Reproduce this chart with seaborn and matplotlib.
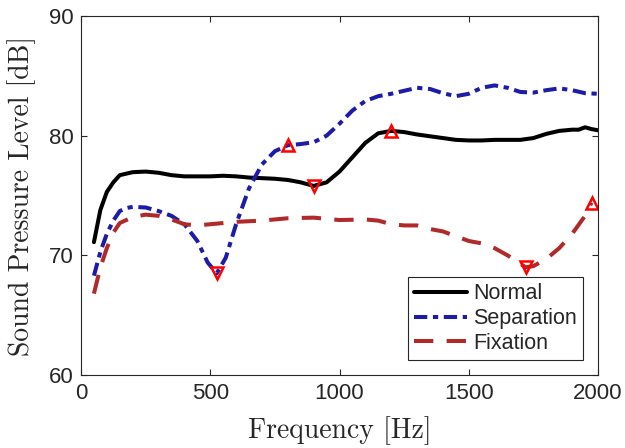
import matplotlib
matplotlib.use("Agg")
import matplotlib.pyplot as plt
import seaborn as sns

# ---------------- data ----------------
normal_freq = [50, 75, 100, 125, 150, 200, 250, 300, 350, 400, 450, 500, 550, 600, 650,
               700, 750, 800, 850, 900, 950, 1000, 1050, 1100, 1150, 1200, 1250, 1300,
               1350, 1400, 1450, 1500, 1550, 1600, 1650, 1700, 1750, 1800, 1850, 1900,
               1925, 1950, 1975, 2000]
normal_spl = [71.1, 73.8, 75.3, 76.1, 76.7, 76.95, 77.0, 76.9, 76.7, 76.6, 76.6, 76.6, 76.65,
              76.6, 76.5, 76.45, 76.4, 76.3, 76.1, 75.8, 76.1, 77.0, 78.2, 79.4, 80.2, 80.4,
              80.3, 80.1, 79.95, 79.8, 79.65, 79.6, 79.6, 79.65, 79.65, 79.65, 79.8, 80.15,
              80.4, 80.5, 80.5, 80.7, 80.55, 80.45]

separation_freq = [50, 75, 100, 125, 150, 175, 200, 250, 300, 350, 400, 450, 490, 525, 560,
                   600, 650, 700, 750, 800, 850, 900, 950, 1000, 1050, 1100, 1150, 1200,
                   1250, 1300, 1350, 1400, 1450, 1500, 1550, 1600, 1650, 1700, 1750, 1800,
                   1850, 1900, 1950, 2000]
separation_spl = [68.3, 70.3, 71.8, 72.9, 73.7, 73.95, 74.05, 74.0, 73.7, 73.3, 72.6, 71.2,
                  69.4, 68.5, 69.8, 72.6, 75.6, 77.6, 78.7, 79.2, 79.3, 79.45, 80.0, 81.0,
                  82.1, 82.9, 83.3, 83.5, 83.75, 84.0, 83.9, 83.55, 83.3, 83.5, 84.0, 84.2,
                  84.0, 83.65, 83.6, 83.8, 83.95, 83.8, 83.55, 83.5]

fixation_freq = [50, 75, 100, 125, 150, 200, 250, 300, 350, 400, 450, 500, 600, 700, 800,
                 900, 1000, 1100, 1150, 1200, 1250, 1300, 1350, 1400, 1450, 1500, 1550, 1600,
                 1650, 1700, 1720, 1750, 1800, 1850, 1900, 1950, 1975]
fixation_spl = [66.8, 69.0, 70.6, 71.9, 72.7, 73.2, 73.4, 73.3, 73.0, 72.6, 72.5, 72.6, 72.8,
                72.9, 73.1, 73.15, 72.95, 73.0, 72.9, 72.6, 72.5, 72.5, 72.2, 72.0, 71.6,
                71.2, 71.0, 70.6, 70.0, 69.3, 69.0, 69.1, 69.7, 70.6, 71.8, 73.3, 74.4]

min_freq = [900, 525, 1720]
min_spl = [75.8, 68.5, 69.0]
max_freq = [1200, 800, 1975]
max_spl = [80.4, 79.2, 74.4]

series_labels = ["Normal", "Separation", "Fixation"]
x_ticks = [0, 500, 1000, 1500, 2000]
y_ticks = [60, 70, 80, 90]

# ---------------- style ----------------
sns.set_theme(style="white")
plt.rcParams["font.family"] = ["Liberation Sans", "DejaVu Sans"]
plt.rcParams["axes.unicode_minus"] = False

fig = plt.figure(figsize=(6.25, 4.48), dpi=100)
ax = fig.add_axes([0.1296, 0.1629, 0.8272, 0.8014])

lw = 2.9
sns.lineplot(x=normal_freq, y=normal_spl, ax=ax, color="black", linewidth=lw,
             label=series_labels[0], estimator=None)
sns.lineplot(x=separation_freq, y=separation_spl, ax=ax, color="#1c1ca8", linewidth=lw,
             label=series_labels[1], estimator=None, dashes=False)
sns.lineplot(x=fixation_freq, y=fixation_spl, ax=ax, color="#b02a2a", linewidth=lw,
             label=series_labels[2], estimator=None, dashes=False)

lines = ax.get_lines()
lines[1].set_dashes((3.3, 1.4, 1.3, 1.4))
lines[2].set_dashes((4.8, 3.3))

sns.lineplot(x=min_freq, y=min_spl, ax=ax, linestyle="", marker="v", markersize=9,
             markerfacecolor="none", markeredgecolor="red", markeredgewidth=1.8,
             legend=False, estimator=None, sort=False)
sns.lineplot(x=max_freq, y=max_spl, ax=ax, linestyle="", marker="^", markersize=9,
             markerfacecolor="none", markeredgecolor="red", markeredgewidth=1.8,
             legend=False, estimator=None, sort=False)

ax.set_xlim(0, 2000)
ax.set_ylim(60, 90)
ax.set_xticks(x_ticks)
ax.set_yticks(y_ticks)

axc = "#262626"
for s in ax.spines.values():
    s.set_visible(True)
    s.set_color(axc)
    s.set_linewidth(0.8)
ax.tick_params(direction="in", length=4, width=0.8, color=axc, labelcolor=axc,
               labelsize=16, top=True, right=True, bottom=True, left=True)
ax.tick_params(axis="x", pad=6)
ax.tick_params(axis="y", pad=5)

ax.set_xlabel("Frequency [Hz]", fontfamily="cmr10", fontsize=20, color=axc)
ax.set_ylabel("Sound Pressure Level [dB]", fontfamily="cmr10", fontsize=20, color=axc)
ax.xaxis.set_label_coords(0.5, -0.115)
ax.yaxis.set_label_coords(-0.088, 0.5)

leg = ax.legend(loc="lower right", bbox_to_anchor=(0.971, 0.042), borderaxespad=0,
                fontsize=15.5, frameon=True, fancybox=False, framealpha=1,
                edgecolor="#262626", handlelength=2.45, handletextpad=0.3,
                labelspacing=0.18, borderpad=0.28)
leg.get_frame().set_linewidth(0.8)

fig.savefig("out.png", dpi=100)
